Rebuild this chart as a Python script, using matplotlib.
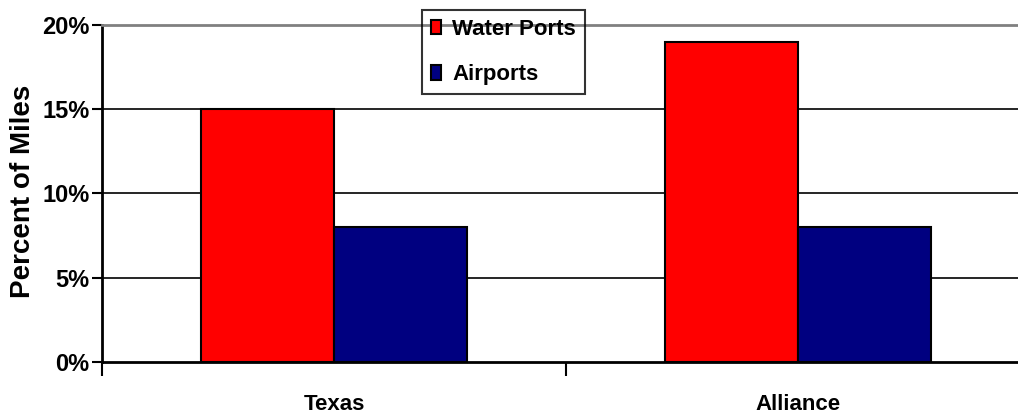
import matplotlib
import matplotlib.pyplot as plt
import numpy as np
from matplotlib.ticker import FixedLocator, PercentFormatter

matplotlib.use("Agg")

categories = ["Texas", "Alliance"]
water_ports = [15, 19]
airports = [8, 8]
series_names = ["Water Ports", "Airports"]
series_colors = ["#ff0000", "#000080"]
y_ticks = [0, 5, 10, 15, 20]

plt.rcParams["font.family"] = ["Liberation Sans", "DejaVu Sans"]
plt.rcParams["font.weight"] = "bold"

W, H = 1018, 419
fig = plt.figure(figsize=(W / 100, H / 100), dpi=100)
# plot area runs slightly past the right edge, like the original
ax = fig.add_axes([102 / W, 1 - 362 / H, (1030 - 102) / W, (362 - 25) / H])

x = np.arange(len(categories))
width = 0.2866
ax.bar(x - width / 2, water_ports, width, color=series_colors[0],
       edgecolor="black", linewidth=1.5, label=series_names[0], zorder=3)
ax.bar(x + width / 2, airports, width, color=series_colors[1],
       edgecolor="black", linewidth=1.5, label=series_names[1], zorder=3)

ax.set_xlim(-0.5, len(categories) - 0.5)
ax.set_ylim(0, 20)

# y axis
ax.set_yticks(y_ticks)
ax.yaxis.set_major_formatter(PercentFormatter(decimals=0))
ax.tick_params(axis="y", direction="out", length=7, width=1.5, labelsize=17, pad=2)
for v in y_ticks[1:-1]:
    ax.axhline(v, color="black", linewidth=1.2, zorder=1)

# x axis: boundary ticks, labels between them
ax.xaxis.set_major_locator(FixedLocator(np.arange(len(categories) + 1) - 0.5))
ax.xaxis.set_minor_locator(FixedLocator(x))
ax.set_xticklabels([], minor=False)
ax.set_xticklabels(categories, minor=True)
ax.tick_params(axis="x", which="major", direction="out", length=10, width=1.5)
ax.tick_params(axis="x", which="minor", length=0, labelsize=16, pad=23)
for lbl in ax.get_yticklabels() + ax.get_xticklabels(minor=True):
    lbl.set_fontweight("bold")

for side in ["left", "bottom"]:
    ax.spines[side].set_linewidth(2)
ax.spines["top"].set_color("#808080")
ax.spines["top"].set_linewidth(2)
ax.spines["right"].set_visible(False)

fig.text(23 / W, 1 - 191 / H, "Percent of Miles", rotation=90,
         ha="center", va="center", fontsize=20, fontweight="bold")

leg = ax.legend(loc="upper left", bbox_to_anchor=(422 / W, 1 - 10 / H),
                bbox_transform=fig.transFigure, borderaxespad=0,
                fontsize=16, frameon=True, fancybox=False, facecolor="none",
                edgecolor="black", handlelength=0.45, handleheight=0.65,
                handletextpad=0.5, borderpad=0.4, labelspacing=1.1)
leg.get_frame().set_linewidth(1.5)
for t in leg.get_texts():
    t.set_fontweight("bold")

fig.savefig("out.png", dpi=100)
